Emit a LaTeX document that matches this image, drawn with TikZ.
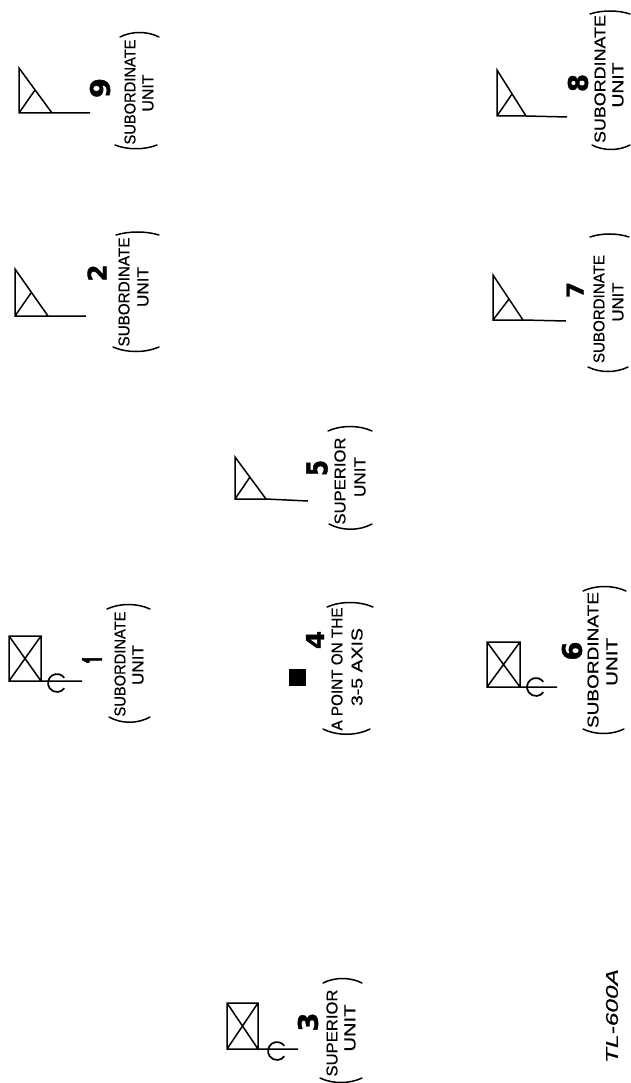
\documentclass[tikz,border=0pt]{standalone}
\usepackage{fontspec}
\usepackage{graphicx}
\setmainfont[FakeBold=0.5]{Liberation Sans}
\newfontfamily\numfont[BoldFeatures={FakeBold=1.5}]{DejaVu Sans}
\newfontfamily\onefont[BoldFeatures={FakeBold=4}]{Open Sans}
\newcommand{\Lbl}[6]{\node[txt] (#1) at (#2,#3) {\resizebox{#4pt}{11pt}{#6}};}
\newcommand{\Num}[6]{\node[txt] (#1) at (#2,#3) {\resizebox{#4pt}{#5pt}{\numfont\bfseries #6}};}
% corner x,y ; top y ; right x ; end x,y ; mid x,y
\newcommand{\TriSym}[9]{\draw[sym] (#1,#2) -- (#1,#3) -- (#4,#2) -- cycle (#4,#2) -- (#5,#6) (#1,#2) -- (#7,#8);}
% box left, top, right, bottom ; line end ; circle centre
\newcommand{\BoxSym}[7]{\draw[sym] (#1,#2) rectangle (#3,#4) (#1,#2) -- (#3,#4) (#3,#2) -- (#1,#4) (#1,#4) -- (#5,#4);
 \draw[sym,line width=1.7pt] ({#6+9*cos(35)},{#7-9*sin(35)}) arc[start angle=35,end angle=325,radius=9pt];}
% left x, right x, end y, control y
\newcommand{\Brk}[4]{\draw[brk] (#1,#3) .. controls ({#1+0.3*(#2-#1)},#4) and ({#1+0.7*(#2-#1)},#4) .. (#2,#3);}
\tikzset{
  txt/.style={inner sep=0pt,outer sep=0pt,rotate=90,text=black},
  sym/.style={draw=black,line width=1.5pt,line join=miter},
  brk/.style={draw=black,line width=1.5pt,line cap=round},
}
\begin{document}
\begin{tikzpicture}[x=1pt,y=-1pt]
\useasboundingbox (0,0) rectangle (631,1083);
\fill[white] (0,0) rectangle (631,1083);

% unit 9
\TriSym{19}{113}{68}{52}{90}{113}{35}{90}{}
\Num{n9}{100}{88}{20}{20}{9}
\Lbl{l9a}{130}{92}{105}{}{SUBORDINATE}
\Lbl{l9b}{148}{93}{37}{}{UNIT}
\Brk{120}{159}{37}{31}
\Brk{115}{157}{145}{150}

% unit 2
\TriSym{15}{316}{269}{48}{86}{316}{31}{293}{}
\Num{n2}{97}{273}{17}{19}{2}
\Lbl{l2a}{124}{292}{109}{}{SUBORDINATE}
\Lbl{l2b}{143}{287}{40}{}{UNIT}
\Brk{116}{159}{235}{231}
\Brk{113}{159}{347}{353}

% unit 8
\TriSym{497}{116}{70}{526}{567}{117}{512}{94}{}
\Num{n8}{578}{83}{18}{20}{8}
\Lbl{l8a}{600}{79}{128}{}{SUBORDINATE}
\Lbl{l8b}{618}{85}{45}{}{UNIT}
\Brk{590}{630}{14}{10}
\Brk{592}{630}{145}{151}

% unit 7
\TriSym{493}{320}{275}{523}{566}{321}{509}{299}{}
\Num{n7}{575}{290}{16}{17}{7}
\Lbl{l7a}{599}{309}{108}{}{SUBORDINATE}
\Lbl{l7b}{618}{302}{39}{}{UNIT}
\Brk{590}{629}{237}{233}
\Brk{588}{628}{367}{373}

% unit 5
\TriSym{235}{499}{457}{266}{308}{501}{250}{477}{}
\Num{n5}{317}{468}{16}{21}{5}
\Lbl{l5a}{340}{481}{87}{}{SUPERIOR}
\Lbl{l5b}{360}{477}{40}{}{UNIT}
\Brk{328}{372}{431}{425}
\Brk{329}{372}{524}{531}

% unit 1
\BoxSym{9}{636}{41}{681}{82}{57}{683}
\node[txt] (n1) at (92,660) {\resizebox{7pt}{19pt}{\onefont\bfseries 1}};
\Lbl{l1a}{120}{664}{105}{}{SUBORDINATE}
\Lbl{l1b}{138}{665}{40}{}{UNIT}
\Brk{107}{150}{609}{603}
\Brk{109}{150}{717}{724}

% unit 4
\node[fill=black,inner sep=0pt,minimum width=17pt,minimum height=17pt] (sq4) at (297.5,677.5) {};
\Num{n4}{315}{640}{18}{18}{4}
\Lbl{l4a}{337}{669}{123}{}{A POINT ON THE}
\Lbl{l4b}{357}{667}{78}{}{3-5 AXIS}
\Brk{327}{373}{607}{601}
\Brk{323}{370}{729}{736}

% unit 6
\BoxSym{487}{642}{520}{687}{557}{536}{687}
\Num{n6}{572}{651}{19}{20}{6}
\Lbl{l6a}{593}{660}{136}{}{SUBORDINATE}
\Lbl{l6b}{612}{662}{48}{}{UNIT}
\Brk{583}{626}{591}{585}
\Brk{583}{624}{729}{735}

% unit 3
\BoxSym{227}{1003}{258}{1049}{298}{277}{1051}
\Num{n3}{308}{1022}{19}{20}{3}
\Lbl{l3a}{332}{1033}{87}{}{SUPERIOR}
\Lbl{l3b}{350}{1028}{47}{}{UNIT}
\Brk{323}{362}{983}{977}
\Brk{320}{362}{1078}{1084}

% drawing number
\node[txt,font=\itshape] (tl) at (612,1016) {\resizebox{94pt}{12pt}{TL-600A}};
\end{tikzpicture}
\end{document}
